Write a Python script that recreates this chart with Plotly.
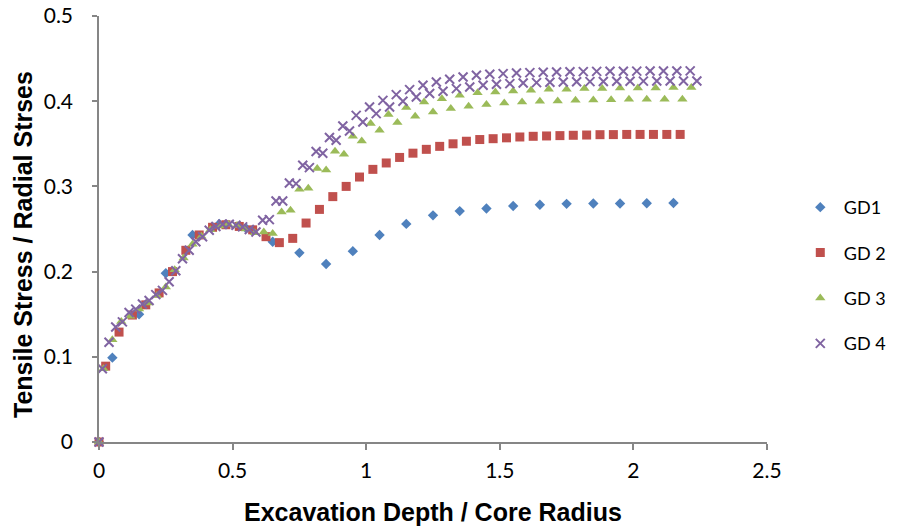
import plotly.graph_objects as go

# ---------------- data ----------------
series_names = ["GD1", "GD 2", "GD 3", "GD 4"]

gd1_x = [0, 0.05, 0.15, 0.25, 0.35, 0.45, 0.55, 0.65, 0.75, 0.85, 0.95, 1.05, 1.15,
         1.25, 1.35, 1.45, 1.55, 1.65, 1.75, 1.85, 1.95, 2.05, 2.15]
gd1_y = [0, 0.099, 0.150, 0.198, 0.243, 0.256, 0.251, 0.235, 0.222, 0.209, 0.224, 0.243,
         0.256, 0.266, 0.271, 0.274, 0.277, 0.2785, 0.2795, 0.280, 0.280, 0.2802, 0.2805]

gd2_x = [0, 0.025, 0.075, 0.125, 0.175, 0.225, 0.275, 0.325, 0.375, 0.425, 0.475, 0.525,
         0.575, 0.625, 0.675, 0.725, 0.775, 0.825, 0.875, 0.925, 0.975, 1.025, 1.075, 1.125,
         1.175, 1.225, 1.275, 1.325, 1.375, 1.425, 1.475, 1.525, 1.575, 1.625, 1.675, 1.725,
         1.775, 1.825, 1.875, 1.925, 1.975, 2.025, 2.075, 2.125, 2.175]
gd2_y = [0, 0.089, 0.129, 0.149, 0.161, 0.175, 0.200, 0.225, 0.243, 0.252, 0.255, 0.253,
         0.249, 0.241, 0.234, 0.239, 0.257, 0.273, 0.288, 0.300, 0.311, 0.320, 0.3275, 0.334,
         0.339, 0.3435, 0.347, 0.350, 0.353, 0.355, 0.356, 0.357, 0.358, 0.3588, 0.3592, 0.3596,
         0.360, 0.3603, 0.3607, 0.3608, 0.361, 0.361, 0.361, 0.361, 0.361]

gd3_x = [0, 0.0167, 0.05, 0.0833, 0.1167, 0.15, 0.1833, 0.2167, 0.25, 0.2833, 0.3167, 0.35,
         0.3833, 0.4167, 0.45, 0.4833, 0.5167, 0.55, 0.5833, 0.6167, 0.65, 0.6833, 0.7167,
         0.75, 0.7833, 0.8167, 0.85, 0.8833, 0.9167, 0.95, 0.9833, 1.0167, 1.05, 1.0833,
         1.1167, 1.15, 1.1833, 1.2167, 1.25, 1.2833, 1.3167, 1.35, 1.3833, 1.4167, 1.45,
         1.4833, 1.5167, 1.55, 1.5833, 1.6167, 1.65, 1.6833, 1.7167, 1.75, 1.7833, 1.8167,
         1.85, 1.8833, 1.9167, 1.95, 1.9833, 2.0167, 2.05, 2.0833, 2.1167, 2.15, 2.1833, 2.2167]
gd3_y = [0, 0.086, 0.120, 0.1415, 0.1475, 0.156, 0.163, 0.172, 0.182, 0.2023, 0.216,
         0.232, 0.2414, 0.249, 0.2535, 0.2555, 0.254, 0.250, 0.2455, 0.2465, 0.2446,
         0.270, 0.272, 0.2968, 0.2977, 0.321, 0.3193, 0.3414, 0.3377, 0.3588, 0.3533,
         0.3737, 0.3658, 0.3843, 0.3749, 0.3925, 0.3823, 0.399, 0.3873, 0.403, 0.3913,
         0.4069, 0.394, 0.410, 0.396, 0.4108, 0.398, 0.412, 0.399, 0.4128, 0.400,
         0.414, 0.4003, 0.414, 0.401, 0.4148, 0.4014, 0.4148, 0.4018, 0.4155, 0.4022,
         0.4155, 0.4022, 0.4155, 0.4022, 0.416, 0.4022, 0.416]

gd4_x = [0, 0.0125, 0.0375, 0.0625, 0.0875, 0.1125, 0.1375, 0.1625, 0.1875, 0.2125, 0.2375,
         0.2625, 0.2875, 0.3125, 0.3375, 0.3625, 0.3875, 0.4125, 0.4375, 0.4625, 0.4875,
         0.5125, 0.5375, 0.5625, 0.5875, 0.6125, 0.6375, 0.6625, 0.6875, 0.7125, 0.7375,
         0.7625, 0.7875, 0.8125, 0.8375, 0.8625, 0.8875, 0.9125, 0.9375, 0.9625, 0.9875,
         1.0125, 1.0375, 1.0625, 1.0875, 1.1125, 1.1375, 1.1625, 1.1875, 1.2125, 1.2375,
         1.2625, 1.2875, 1.3125, 1.3375, 1.3625, 1.3875, 1.4125, 1.4375, 1.4625, 1.4875,
         1.5125, 1.5375, 1.5625, 1.5875, 1.6125, 1.6375, 1.6625, 1.6875, 1.7125, 1.7375,
         1.7625, 1.7875, 1.8125, 1.8375, 1.8625, 1.8875, 1.9125, 1.9375, 1.9625, 1.9875,
         2.0125, 2.0375, 2.0625, 2.0875, 2.1125, 2.1375, 2.1625, 2.1875, 2.2125, 2.2375]
gd4_y = [0, 0.086, 0.117, 0.135, 0.141, 0.152, 0.156, 0.162, 0.166, 0.173, 0.178,
         0.188, 0.201, 0.215, 0.225, 0.235, 0.241, 0.2485, 0.253, 0.2555, 0.2555,
         0.2545, 0.2525, 0.2495, 0.2465, 0.2602, 0.261, 0.2829, 0.2829, 0.304, 0.3033,
         0.3248, 0.322, 0.341, 0.339, 0.3573, 0.3541, 0.3709, 0.365, 0.3834, 0.3756,
         0.3932, 0.3854, 0.401, 0.3932, 0.4077, 0.400, 0.4136, 0.405, 0.4187, 0.409,
         0.4225, 0.4116, 0.4257, 0.4148, 0.4284, 0.4167, 0.4304, 0.4187, 0.4316, 0.4198,
         0.4324, 0.4206, 0.4331, 0.4214, 0.4335, 0.4218, 0.4339, 0.4222, 0.4343, 0.4225,
         0.4345, 0.4228, 0.4347, 0.4230, 0.435, 0.4232, 0.4351, 0.4234, 0.4352, 0.4235,
         0.4353, 0.4236, 0.4354, 0.4237, 0.4355, 0.4237, 0.4355, 0.4238, 0.4356, 0.4238]

x_tickvals = [0, 0.5, 1, 1.5, 2, 2.5]
x_ticktext = ["0", "0.5", "1", "1.5", "2", "2.5"]
y_tickvals = [0, 0.1, 0.2, 0.3, 0.4, 0.5]
y_ticktext = ["0", "0.1", "0.2", "0.3", "0.4", "0.5"]

x_title = "Excavation Depth / Core Radius"
y_title = "Tensile Stress / Radial Strses"

# ---------------- styles ----------------
colors = ["#4F81BD", "#C0504D", "#9BBB59", "#8064A2"]
symbols = ["diamond", "square", "triangle-up", "x-thin"]
sizes = [8, 9, 9, 9]

xs = [gd1_x, gd2_x, gd3_x, gd4_x]
ys = [gd1_y, gd2_y, gd3_y, gd4_y]

fig = go.Figure()
for i in range(4):
    if symbols[i] == "x-thin":
        marker = dict(symbol="x-thin", size=sizes[i], color=colors[i],
                      line=dict(color=colors[i], width=2))
    else:
        marker = dict(symbol=symbols[i], size=sizes[i], color=colors[i],
                      line=dict(width=0))
    fig.add_trace(go.Scatter(
        x=xs[i], y=ys[i], mode="markers", name=series_names[i],
        marker=marker, cliponaxis=False, legendgroup=series_names[i],
    ))

axis_color = "#868686"
tick_font = dict(family="Lato, Carlito, Calibri, sans-serif", size=21, color="#000000")
title_font = dict(family="Liberation Sans, Arial, sans-serif", size=25, color="#000000")

fig.update_layout(
    width=903, height=527,
    margin=dict(l=99, r=134, t=16, b=85, pad=0),
    paper_bgcolor="white", plot_bgcolor="white",
    showlegend=True,
    legend=dict(
        x=1.0446, xanchor="left", y=0.391, yanchor="middle",
        font=dict(family="Lato, Carlito, Calibri, sans-serif", size=18, color="#000000"),
        traceorder="grouped", tracegroupgap=19, itemwidth=37,
        bgcolor="rgba(0,0,0,0)", borderwidth=0, itemsizing="trace",
    ),
    xaxis=dict(
        range=[0, 2.5], tickmode="array", tickvals=x_tickvals, ticktext=x_ticktext,
        showgrid=False, zeroline=False, showline=True, linecolor=axis_color, linewidth=1.5,
        ticks="outside", ticklen=6, tickcolor=axis_color, tickwidth=1.5,
        tickfont=tick_font, ticklabelstandoff=3, automargin=False,
        fixedrange=True,
    ),
    yaxis=dict(
        range=[0, 0.5], tickmode="array", tickvals=y_tickvals, ticktext=y_ticktext,
        showgrid=False, zeroline=False, showline=True, linecolor=axis_color, linewidth=1.5,
        ticks="outside", ticklen=5, tickcolor=axis_color, tickwidth=1.5,
        tickfont=tick_font, ticklabelstandoff=15, automargin=False,
        fixedrange=True,
    ),
    annotations=[
        dict(text="<b>" + x_title + "</b>", xref="paper", yref="paper",
             x=0.5, y=0, yshift=-70, xanchor="center", yanchor="middle",
             showarrow=False, font=title_font),
        dict(text="<b>" + y_title + "</b>", xref="paper", yref="paper",
             x=0, y=0.5, xshift=-76, yshift=-16, xanchor="center", yanchor="middle",
             textangle=-90, showarrow=False, font=title_font),
    ],
)

fig.write_html("out.html")
